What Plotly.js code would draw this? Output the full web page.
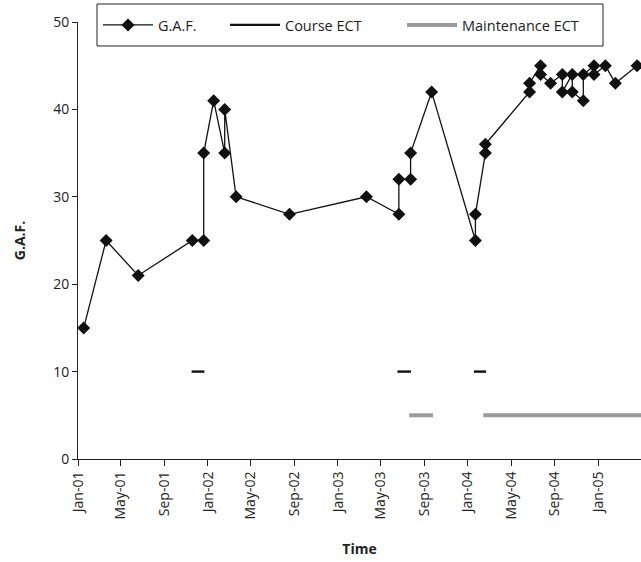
<!DOCTYPE html>
<html>
<head>
<meta charset="utf-8">
<script src="https://cdn.plot.ly/plotly-3.0.1.min.js"></script>
<style>html,body{margin:0;padding:0;background:#fff;}#chart{width:641px;height:562px;}</style>
</head>
<body>
<div id="chart"></div>
<script>
// G.A.F. score over time
var gafDates = [
  '2001-01-17','2001-03-21','2001-06-19','2001-11-18','2001-12-20','2001-12-20',
  '2002-01-17','2002-02-17','2002-02-17','2002-03-21','2002-08-18',
  '2003-03-22','2003-06-21','2003-06-21','2003-07-24','2003-07-24','2003-09-21',
  '2004-01-22','2004-01-22','2004-02-19','2004-02-19',
  '2004-06-22','2004-06-22','2004-07-23','2004-07-23','2004-08-20',
  '2004-09-22','2004-09-22','2004-10-20','2004-10-20','2004-11-20','2004-11-20',
  '2004-12-20','2004-12-20','2005-01-21','2005-02-18','2005-04-20'
];
var gafValues = [
  15, 25, 21, 25, 25, 35,
  41, 35, 40, 30, 28,
  30, 28, 32, 32, 35, 42,
  25, 28, 35, 36,
  42, 43, 45, 44, 43,
  44, 42, 44, 42, 41, 44,
  45, 44, 45, 43, 45
];
// Course ECT periods (plotted at level 10)
var courseDates  = ['2001-11-16','2001-12-22', null, '2003-06-17','2003-07-25', null, '2004-01-18','2004-02-21'];
var courseValues = [10, 10, null, 10, 10, null, 10, 10];
// Maintenance ECT periods (plotted at level 5)
var maintDates  = ['2003-07-20','2003-09-25', null, '2004-02-13','2005-06-01'];
var maintValues = [5, 5, null, 5, 5];

var seriesNames = ['G.A.F.', 'Course ECT', 'Maintenance ECT'];
var xRange = ['2001-01-01', '2005-05-01'];
var yTicks = [0, 10, 20, 30, 40, 50];

var FONT = 'Open Sans, Noto Sans, sans-serif';

var traces = [
  {
    x: gafDates, y: gafValues, name: seriesNames[0], type: 'scatter', mode: 'lines+markers',
    line: {color: '#111', width: 1.3},
    marker: {symbol: 'diamond', size: 10, color: '#111'},
    legendwidth: 62
  },
  {
    x: courseDates, y: courseValues, name: seriesNames[1], type: 'scatter', mode: 'lines',
    line: {color: '#111', width: 2.4}, connectgaps: false,
    legendwidth: 112
  },
  {
    x: maintDates, y: maintValues, name: seriesNames[2], type: 'scatter', mode: 'lines',
    line: {color: '#9a9a9a', width: 4}, connectgaps: false,
    legendwidth: 120
  }
];

var layout = {
  width: 641, height: 562,
  margin: {l: 78, r: 0, t: 22, b: 103},
  paper_bgcolor: '#fff', plot_bgcolor: '#fff',
  font: {family: FONT, size: 14, color: '#222'},
  showlegend: true,
  legend: {
    orientation: 'h', x: (98 - 78) / 563, xanchor: 'left', y: (459.3 - 25) / 437.3, yanchor: 'middle',
    bgcolor: 'rgba(0,0,0,0)', borderwidth: 0,
    font: {family: FONT, size: 14.5, color: '#222'},
    itemwidth: 50
  },
  shapes: [{
    type: 'rect', xref: 'paper', yref: 'paper',
    x0: (97 - 78) / 563, x1: (603 - 78) / 563,
    y0: (459.3 - 46) / 437.3, y1: (459.3 - 4) / 437.3,
    line: {color: '#222', width: 1}, fillcolor: '#fff', layer: 'above'
  }],
  xaxis: {
    type: 'date', range: xRange,
    tick0: '2001-01-01', dtick: 'M4', tickformat: '%b-%y', tickangle: -90,
    ticks: 'outside', ticklen: 6, tickcolor: '#222', tickwidth: 1,
    showline: true, linecolor: '#222', linewidth: 1,
    showgrid: false, zeroline: false,
    tickfont: {family: FONT, size: 14, color: '#222'},
    title: {text: '<b>Time</b>', font: {family: FONT, size: 14, color: '#222'}, standoff: 25}
  },
  yaxis: {
    range: [0, 50], tickvals: yTicks,
    ticks: 'outside', ticklen: 5, tickcolor: '#222', tickwidth: 1,
    showline: true, linecolor: '#222', linewidth: 1,
    showgrid: false, zeroline: false,
    tickfont: {family: FONT, size: 14, color: '#222'},
    title: {text: '<b>G.A.F.</b>', font: {family: FONT, size: 14, color: '#222'}, standoff: 24}
  }
};

Plotly.newPlot('chart', traces, layout, {displayModeBar: false, staticPlot: true});
</script>
</body>
</html>
